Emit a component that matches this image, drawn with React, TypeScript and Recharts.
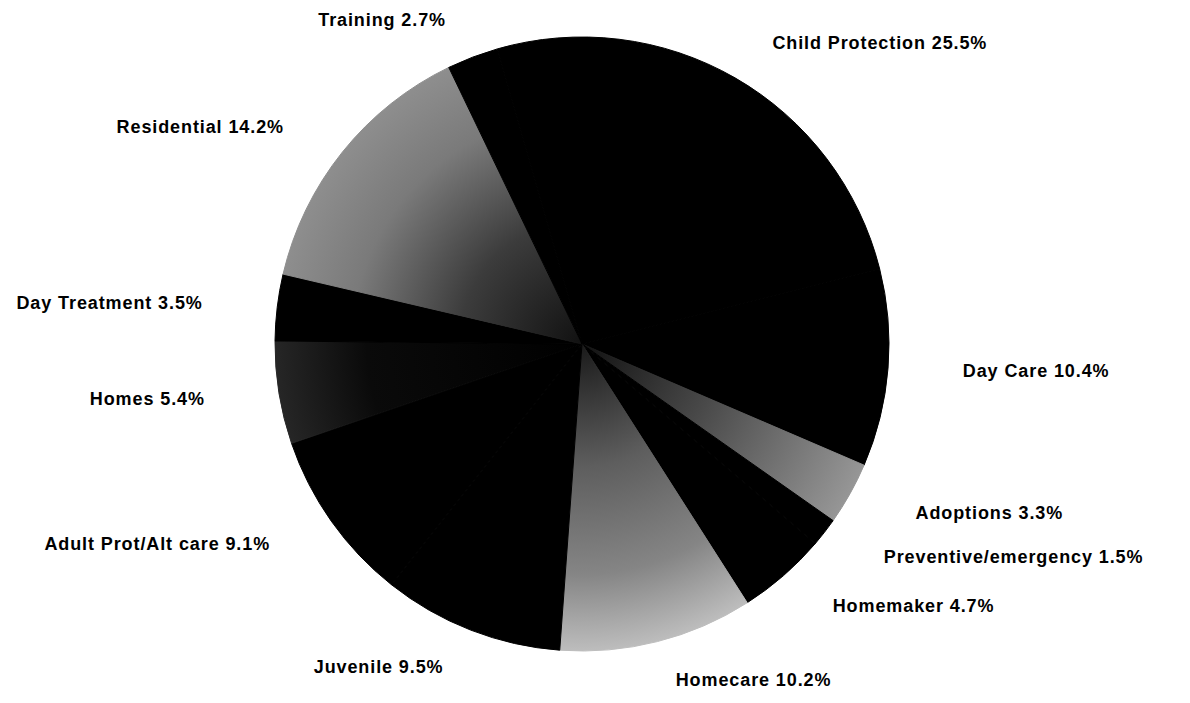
import React from 'react';
import { PieChart, Pie, Cell } from 'recharts';

const categories = [
  'Child Protection',
  'Day Care',
  'Adoptions',
  'Preventive/emergency',
  'Homemaker',
  'Homecare',
  'Juvenile',
  'Adult Prot/Alt care',
  'Homes',
  'Day Treatment',
  'Residential',
  'Training',
];
const shares = [25.5, 10.4, 3.3, 1.5, 4.7, 10.2, 9.5, 9.1, 5.4, 3.5, 14.2, 2.7];

const sliceFills = [
  '#000000',
  '#000000',
  'url(#gAdopt)',
  '#000000',
  '#000000',
  'url(#gHomecare)',
  '#000000',
  '#000000',
  'url(#gHomes)',
  '#000000',
  'url(#gResid)',
  '#000000',
];

const data = categories.map((name, i) => ({ name, value: shares[i] }));

const CX = 582;
const CY = 344;
const R = 307;
const RADIAN = Math.PI / 180;

const renderLabel = (props: any) => {
  const { cx, cy, midAngle, outerRadius, index } = props;
  const rx = outerRadius + 75;
  const ry = outerRadius + 40;
  const c = Math.cos(-midAngle * RADIAN);
  const s = Math.sin(-midAngle * RADIAN);
  const x = cx + rx * c;
  const y = cy + ry * s;
  const anchor = c >= 0 ? 'start' : 'end';
  return (
    <text
      x={x}
      y={y}
      textAnchor={anchor}
      dominantBaseline="central"
      fill="#000"
      fontFamily="'Liberation Sans', Arial, sans-serif"
      fontWeight="bold"
      fontSize={18}
      letterSpacing={0.9}
    >
      {`${categories[index]} ${shares[index]}%`}
    </text>
  );
};

export default function App() {
  return (
    <div style={{ position: 'absolute', left: 0, top: 0, width: 1190, height: 703, background: '#fff' }}>
      <svg width={0} height={0} style={{ position: 'absolute' }}>
        <defs>
          <radialGradient id="gResid" gradientUnits="userSpaceOnUse" cx={CX} cy={CY} r={R}>
            <stop offset="0%" stopColor="#111" />
            <stop offset="40%" stopColor="#3c3c3c" />
            <stop offset="75%" stopColor="#7a7a7a" />
            <stop offset="100%" stopColor="#8e8e8e" />
          </radialGradient>
          <radialGradient id="gAdopt" gradientUnits="userSpaceOnUse" cx={CX} cy={CY} r={R}>
            <stop offset="0%" stopColor="#111" />
            <stop offset="45%" stopColor="#4a4a4a" />
            <stop offset="100%" stopColor="#969696" />
          </radialGradient>
          <radialGradient id="gHomecare" gradientUnits="userSpaceOnUse" cx={CX} cy={CY} r={R}>
            <stop offset="0%" stopColor="#1a1a1a" />
            <stop offset="40%" stopColor="#5e5e5e" />
            <stop offset="75%" stopColor="#858585" />
            <stop offset="100%" stopColor="#bdbdbd" />
          </radialGradient>
          <radialGradient id="gHomes" gradientUnits="userSpaceOnUse" cx={CX} cy={CY} r={R}>
            <stop offset="0%" stopColor="#000" />
            <stop offset="70%" stopColor="#0a0a0a" />
            <stop offset="100%" stopColor="#262626" />
          </radialGradient>
        </defs>
      </svg>
      <PieChart width={1190} height={703} margin={{ top: 0, right: 0, bottom: 0, left: 0 }}>
        <Pie
          data={data}
          dataKey="value"
          nameKey="name"
          cx={CX}
          cy={CY}
          outerRadius={R}
          innerRadius={0}
          startAngle={106}
          endAngle={-254}
          stroke="none"
          labelLine={false}
          label={renderLabel}
          isAnimationActive={false}
        >
          {data.map((d, i) => (
            <Cell key={d.name} fill={sliceFills[i]} stroke={sliceFills[i]} strokeWidth={1} />
          ))}
        </Pie>
      </PieChart>
    </div>
  );
}
